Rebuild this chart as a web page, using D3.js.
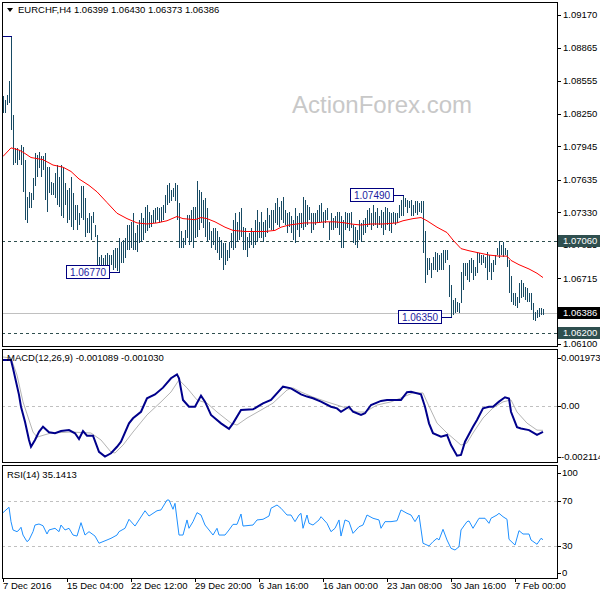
<!DOCTYPE html>
<html><head><meta charset="utf-8">
<script src="https://cdn.jsdelivr.net/npm/d3@7"></script>
<style>
html,body{margin:0;padding:0;background:#fff;}
svg{display:block;}
text{font-family:"Liberation Sans",Arial,sans-serif;font-size:9.5px;fill:#000;}
</style></head><body>
<svg id="c" width="600" height="600"></svg>
<script>
// ---------------- DATA ----------------
const symbol = "EURCHF,H4";
const lastOHLC = ["1.06399","1.06430","1.06373","1.06386"];
const macdHeader = ["MACD(12,26,9)","-0.001089","-0.001030"];
const rsiHeader = ["RSI(14)","35.1413"];

const highs = [
1.0841,1.0838,1.0842,1.0855,1.0897,1.0824,1.0793,1.0793,1.0791,1.0796,
1.0794,1.0782,1.0747,1.0752,1.0751,1.0765,1.0788,1.0786,1.0789,1.0785,
1.0785,1.0788,1.0775,1.0775,1.0761,1.0760,1.0770,1.0777,1.0766,1.0777,
1.0775,1.0760,1.0754,1.0756,1.0766,1.0751,1.0740,1.0740,1.0732,1.0757,
1.0757,1.0746,1.0728,1.0732,1.0729,1.0733,1.0721,1.0712,1.0691,1.0693,
1.0690,1.0693,1.0695,1.0693,1.0693,1.0698,1.0700,1.0700,1.0709,1.0705,
1.0707,1.0709,1.0721,1.0721,1.0724,1.0732,1.0714,1.0721,1.0726,1.0732,
1.0728,1.0738,1.0740,1.0733,1.0730,1.0735,1.0737,1.0738,1.0737,1.0738,
1.0740,1.0749,1.0758,1.0760,1.0754,1.0756,1.0760,1.0758,1.0742,1.0715,
1.0709,1.0716,1.0730,1.0730,1.0735,1.0738,1.0738,1.0762,1.0754,1.0752,
1.0744,1.0746,1.0737,1.0724,1.0715,1.0718,1.0718,1.0715,1.0710,1.0707,
1.0704,1.0704,1.0698,1.0705,1.0714,1.0726,1.0732,1.0724,1.0733,1.0737,
1.0719,1.0718,1.0710,1.0714,1.0718,1.0715,1.0726,1.0735,1.0724,1.0733,
1.0724,1.0726,1.0737,1.0730,1.0735,1.0735,1.0742,1.0746,1.0738,1.0743,
1.0747,1.0735,1.0732,1.0733,1.0729,1.0726,1.0737,1.0729,1.0732,1.0732,
1.0747,1.0744,1.0740,1.0738,1.0732,1.0732,1.0732,1.0735,1.0740,1.0742,
1.0733,1.0735,1.0737,1.0724,1.0732,1.0728,1.0729,1.0733,1.0733,1.0729,
1.0726,1.0733,1.0732,1.0732,1.0733,1.0721,1.0719,1.0716,1.0726,1.0723,
1.0726,1.0728,1.0735,1.0737,1.0732,1.0740,1.0733,1.0737,1.0729,1.0735,
1.0733,1.0738,1.0737,1.0733,1.0732,1.0733,1.0732,1.0732,1.0740,1.0744,
1.0749,1.0746,1.0744,1.0743,1.0744,1.0740,1.0743,1.0743,1.0742,1.0743,
1.0743,1.0715,1.0690,1.0690,1.0686,1.0691,1.0696,1.0695,1.0693,1.0695,
1.0698,1.0698,1.0698,1.0684,1.0665,1.0651,1.0653,1.0649,1.0648,1.0677,
1.0686,1.0686,1.0686,1.0688,1.0690,1.0688,1.0682,1.0696,1.0695,1.0693,
1.0693,1.0691,1.0696,1.0693,1.0686,1.0688,1.0693,1.0700,1.0706,1.0702,
1.0705,1.0700,1.0698,1.0688,1.0673,1.0658,1.0658,1.0654,1.0667,1.0670,
1.0667,1.0663,1.0662,1.0658,1.0658,1.0648,1.0640,1.0642,1.0644,1.0644,1.0643
];
const lows = [
1.0826,1.0826,1.0833,1.0835,1.0810,1.0777,1.0779,1.0777,1.0782,1.0777,
1.0752,1.0726,1.0723,1.0737,1.0737,1.0744,1.0757,1.0766,1.0774,1.0766,
1.0772,1.0744,1.0733,1.0751,1.0749,1.0749,1.0746,1.0740,1.0738,1.0729,
1.0728,1.0740,1.0723,1.0726,1.0719,1.0716,1.0726,1.0716,1.0721,1.0728,
1.0726,1.0710,1.0714,1.0714,1.0707,1.0723,1.0710,1.0679,1.0678,1.0678,
1.0681,1.0678,1.0681,1.0681,1.0684,1.0679,1.0681,1.0678,1.0677,1.0686,
1.0686,1.0690,1.0698,1.0698,1.0700,1.0698,1.0698,1.0696,1.0704,1.0705,
1.0707,1.0714,1.0715,1.0718,1.0719,1.0723,1.0723,1.0726,1.0723,1.0724,
1.0726,1.0732,1.0740,1.0742,1.0743,1.0747,1.0743,1.0726,1.0700,1.0700,
1.0700,1.0702,1.0709,1.0702,1.0705,1.0700,1.0709,1.0710,1.0716,1.0723,
1.0718,1.0710,1.0705,1.0707,1.0700,1.0702,1.0698,1.0695,1.0688,1.0690,
1.0679,1.0684,1.0687,1.0690,1.0700,1.0698,1.0700,1.0705,1.0707,1.0710,
1.0698,1.0698,1.0691,1.0700,1.0702,1.0700,1.0702,1.0705,1.0709,1.0709,
1.0705,1.0710,1.0714,1.0718,1.0716,1.0715,1.0723,1.0721,1.0719,1.0726,
1.0723,1.0721,1.0714,1.0719,1.0714,1.0707,1.0704,1.0716,1.0710,1.0718,
1.0716,1.0719,1.0721,1.0726,1.0714,1.0716,1.0721,1.0723,1.0723,1.0724,
1.0718,1.0723,1.0726,1.0707,1.0716,1.0716,1.0718,1.0718,1.0712,1.0700,
1.0700,1.0716,1.0718,1.0715,1.0718,1.0704,1.0702,1.0700,1.0707,1.0705,
1.0712,1.0714,1.0719,1.0721,1.0716,1.0720,1.0721,1.0718,1.0721,1.0718,
1.0712,1.0716,1.0721,1.0715,1.0714,1.0723,1.0721,1.0723,1.0728,1.0729,
1.0729,1.0738,1.0732,1.0737,1.0729,1.0729,1.0732,1.0730,1.0733,1.0732,
1.0695,1.0667,1.0674,1.0679,1.0672,1.0679,1.0679,1.0677,1.0679,1.0679,
1.0679,1.0686,1.0688,1.0654,1.0635,1.0637,1.0639,1.0640,1.0639,1.0648,
1.0660,1.0673,1.0670,1.0668,1.0676,1.0670,1.0673,1.0676,1.0686,1.0684,
1.0686,1.0681,1.0670,1.0677,1.0670,1.0677,1.0684,1.0693,1.0690,1.0693,
1.0691,1.0693,1.0682,1.0658,1.0649,1.0646,1.0645,1.0644,1.0648,1.0653,
1.0654,1.0651,1.0649,1.0649,1.0642,1.0632,1.0631,1.0634,1.0635,1.0637,1.06373
];

// moving average (red), sampled at bar indices
const maIdx = [0,4,8,10,14,20,25,30,34,38,43,47,52,57,62,67,72,77,82,87,90,96,99,102,106,111,115,121,124,131,136,139,143,147,151,156,161,166,171,174,179,184,190,197,200,205,209,212,217,222,225,229,233,238,243,248,252,254,258,263,267,270];
const maVal = [1.0785,1.0793,1.0791,1.0789,1.0784,1.0782,1.0777,1.0775,1.0771,1.0764,1.0758,1.0752,1.0742,1.0732,1.0727,1.0723,1.0722,1.0723,1.0725,1.0729,1.0727,1.0726,1.0728,1.0727,1.0724,1.0719,1.0716,1.0715,1.0715,1.0715,1.0716,1.0719,1.0721,1.0722,1.0723,1.0723,1.0724,1.0724,1.0723,1.0722,1.0721,1.0722,1.0722,1.0723,1.0725,1.0727,1.0728,1.0725,1.0719,1.0714,1.0707,1.0699,1.0697,1.0695,1.0693,1.0692,1.0692,1.0688,1.0684,1.0680,1.0676,1.0672];

// MACD(12,26,9)
const macdIdx = [0,4,5,8,9,11,13,14,16,18,20,23,26,29,33,36,38,40,42,45,48,51,54,57,59,63,65,69,72,76,80,84,87,88,90,93,96,99,101,104,109,113,115,119,125,130,134,140,144,148,149,152,155,159,164,167,169,173,175,179,181,184,189,192,199,202,204,209,211,213,215,219,222,224,227,229,231,235,237,240,243,245,248,251,253,254,257,259,263,267,270];
const macdMain = [0.00189,0.00189,0.00154,0.00044,-0.00005,-0.00067,-0.00143,-0.00171,-0.00143,-0.00109,-0.00088,-0.00111,-0.00115,-0.00106,-0.00102,-0.00115,-0.00139,-0.00106,-0.00125,-0.00125,-0.00192,-0.00212,-0.00198,-0.00171,-0.0015,-0.00074,-0.00053,-0.00026,0.0003,0.00046,0.00074,0.00113,0.00129,0.00113,0.00023,-0.00005,-0.00005,0.00041,0.00016,-0.00039,-0.00074,-0.00097,-0.00074,-0.00019,-0.00016,0.00009,0.00023,0.00078,0.00071,0.00051,0.00046,0.00037,0.0003,0.00016,-0.00005,-0.00012,-0.00026,-0.00005,-0.00026,-0.00039,-0.00032,0.00002,0.00019,0.00023,0.00023,0.00055,0.00057,0.00046,-0.00005,-0.00074,-0.00115,-0.00129,-0.00122,-0.00164,-0.00208,-0.00205,-0.0015,-0.00088,-0.0006,-0.00012,-0.00005,-0.00005,0.00016,0.00034,0.00029,-0.00026,-0.0009,-0.00095,-0.00102,-0.00122,-0.00109];
const sigIdx = [0,4,7,10,15,17,24,34,44,49,54,56,60,65,72,79,84,88,92,97,102,107,114,117,122,129,135,142,145,149,155,162,170,177,181,187,194,200,205,210,212,217,222,229,232,235,240,245,250,254,257,262,267,270];
const sigVal = [0.00201,0.00197,0.00126,0.00015,-0.0011,-0.00131,-0.00114,-0.0011,-0.00114,-0.00143,-0.00193,-0.00197,-0.00164,-0.0011,-0.00039,0.00015,0.00056,0.00106,0.00073,0.00023,0.0001,-0.00027,-0.00073,-0.00081,-0.00052,-0.00019,0.0001,0.00064,0.00073,0.00056,0.00035,0.00015,-0.00006,-0.00027,-0.00027,0.00002,0.00015,0.00035,0.00052,0.00052,0.00015,-0.00073,-0.00114,-0.00164,-0.00155,-0.00114,-0.00052,-0.0001,0.00015,0.00023,-0.00027,-0.00073,-0.00102,-0.00103];

// RSI(14)
const rsiIdx = [0,3,4,5,7,8,9,10,12,13,15,16,18,20,22,23,26,28,29,31,33,35,37,39,41,43,46,48,52,54,57,58,61,63,66,68,71,73,77,79,82,83,85,86,88,90,92,93,95,97,99,101,103,105,107,108,111,113,115,117,119,120,125,127,130,133,134,137,139,142,144,146,148,149,150,152,153,155,158,159,162,164,166,168,169,171,173,175,178,180,182,185,188,189,191,194,197,199,202,204,206,208,210,213,215,217,218,220,222,224,226,228,229,232,233,235,238,241,243,244,247,248,250,252,253,256,258,260,263,264,267,269,270];
const rsiVal = [59.2,64.0,51.2,43.8,42.3,43.8,46.2,39.3,33.4,34.9,42.3,48.2,49.1,47.6,40.2,43.8,45.3,42.3,48.2,43.8,45.3,39.3,38.4,50.3,39.3,42.3,38.4,32.0,34.9,36.4,39.3,42.3,45.3,53.3,47.3,52.7,60.9,56.2,60.9,61.6,70.4,70.4,62.2,67.5,39.3,39.3,52.7,45.3,51.2,59.2,57.1,48.2,43.8,39.3,45.3,39.3,39.3,43.8,48.8,48.8,58.0,47.3,48.2,52.7,53.3,56.2,63.1,66.0,63.1,57.1,57.1,51.2,57.1,58.6,45.3,57.1,49.7,48.2,52.7,55.6,49.7,42.3,45.3,52.7,38.4,52.7,51.2,40.8,46.7,48.2,57.1,54.2,52.7,45.3,51.2,51.2,52.0,61.6,58.6,57.1,51.2,57.1,32.0,29.6,33.4,36.4,34.9,44.4,34.9,27.5,26.0,28.9,43.8,51.2,51.8,45.3,54.2,54.2,49.7,54.2,57.1,58.6,55.6,53.3,35.5,30.4,43.2,40.2,40.2,34.9,31.1,36.4,35.14];

// axis labels
const timeLabels = ["7 Dec 2016","15 Dec 04:00","22 Dec 12:00","29 Dec 20:00","6 Jan 16:00","16 Jan 00:00","23 Jan 08:00","30 Jan 16:00","7 Feb 00:00"];
const timeLabelBars = [0,32,64,96,128,160,192,224,256];
const priceTicks = ["1.09170","1.08865","1.08555","1.08250","1.07945","1.07635","1.07330","1.07025","1.06715","1.06410","1.06100"];
const macdTicks = [0.001973, 0, -0.002114];
const macdTickLabels = ["0.001973","0.00","-0.002114"];
const rsiTicks = [100, 70, 30, 0];

// horizontal levels and annotations
const levelPrices = [1.0706, 1.0620];
const levelLabels = ["1.07060","1.06200"];
const bidPrice = 1.06386, bidLabel = "1.06386";
const noteBars = [58, 200, 224];
const notePrices = [1.0677, 1.0749, 1.0635];
const noteLabels = ["1.06770","1.07490","1.06350"];
const edgeNoteBars = [4];
const edgeNotePrices = [1.0897];

// ---------------- DRAW ----------------
const svg = d3.select("#c");
const PL = 2, PR = 557;
const P1 = {t:2, b:346}, P2 = {t:349, b:462}, P3 = {t:465, b:578};
const barColor = "#174a63";

const x = d3.scaleLinear().domain([0, 270]).range([3, 543]);
const y = d3.scaleLinear().domain([1.0917, 1.0610]).range([15, 344]);
const yM = d3.scaleLinear().domain([0, -0.002114]).range([405.5, 456.5]);
const yR = d3.scaleLinear().domain([70, 30]).range([500.5, 545.5]);
const px = i => Math.round(x(i)) + 0.5;

svg.append("rect").attr("width",600).attr("height",600).attr("fill","#fff");

const defs = svg.append("defs");
[P1,P2,P3].forEach((p,k)=>{
  defs.append("clipPath").attr("id","clip"+k).append("rect")
    .attr("x",PL+1).attr("y",p.t+1).attr("width",PR-PL-1).attr("height",p.b-p.t-1);
});

// watermark
svg.append("text").attr("x",382).attr("y",113).attr("text-anchor","middle")
  .style("font-size","24px").style("fill","#c8c8c8").text("ActionForex.com");

// ---- main panel ----
const g1 = svg.append("g").attr("clip-path","url(#clip0)");
g1.selectAll("line.lvl").data(levelPrices).join("line").attr("class","lvl")
  .attr("x1",PL).attr("x2",PR).attr("y1",d=>Math.round(y(d))+0.5).attr("y2",d=>Math.round(y(d))+0.5)
  .attr("stroke","#2f4f4f").attr("stroke-dasharray","3,3").attr("shape-rendering","crispEdges");
g1.append("line").attr("x1",PL).attr("x2",PR)
  .attr("y1",Math.round(y(bidPrice))+0.5).attr("y2",Math.round(y(bidPrice))+0.5)
  .attr("stroke","#c0c0c0").attr("shape-rendering","crispEdges");
g1.selectAll("line.bar").data(highs).join("line").attr("class","bar")
  .attr("x1",(d,i)=>px(i)).attr("x2",(d,i)=>px(i))
  .attr("y1",d=>y(d)).attr("y2",(d,i)=>y(lows[i]))
  .attr("stroke",barColor).attr("stroke-width",1).attr("shape-rendering","crispEdges");
g1.append("path").datum(maIdx.map((d,i)=>[d,maVal[i]]))
  .attr("d",d3.line().x(d=>x(d[0])).y(d=>y(d[1])))
  .attr("fill","none").attr("stroke","#ff0000").attr("stroke-width",1);
g1.selectAll("line.edge").data(edgeNoteBars).join("line").attr("class","edge")
  .attr("x1",PL).attr("x2",d=>px(d))
  .attr("y1",(d,i)=>Math.round(y(edgeNotePrices[i]))+0.5).attr("y2",(d,i)=>Math.round(y(edgeNotePrices[i]))+0.5)
  .attr("stroke","#000080").attr("shape-rendering","crispEdges");
const notes = g1.selectAll("g.note").data(noteBars).join("g").attr("class","note");
notes.append("line")
  .attr("x1",d=>px(d)-10).attr("x2",d=>px(d))
  .attr("y1",(d,i)=>Math.round(y(notePrices[i]))+0.5).attr("y2",(d,i)=>Math.round(y(notePrices[i]))+0.5)
  .attr("stroke","#000080").attr("shape-rendering","crispEdges");
notes.append("rect")
  .attr("x",d=>px(d)-10-43).attr("y",(d,i)=>Math.round(y(notePrices[i]))-6.5)
  .attr("width",43).attr("height",13)
  .attr("fill","#fff").attr("stroke","#000080").attr("shape-rendering","crispEdges");
notes.append("text")
  .attr("x",d=>px(d)-10-21.5).attr("y",(d,i)=>y(notePrices[i])).attr("dy","0.36em")
  .attr("text-anchor","middle").style("font-size","10px").style("fill","#1a1aa0")
  .text((d,i)=>noteLabels[i]);

// ---- MACD panel ----
const g2 = svg.append("g").attr("clip-path","url(#clip1)");
g2.append("line").attr("x1",PL).attr("x2",PR).attr("y1",Math.round(yM(0))+0.5).attr("y2",Math.round(yM(0))+0.5)
  .attr("stroke","#c0c0c0").attr("stroke-dasharray","3,3").attr("shape-rendering","crispEdges");
g2.append("path").datum(sigIdx.map((d,i)=>[d,sigVal[i]]))
  .attr("d",d3.line().x(d=>x(d[0])).y(d=>yM(d[1])))
  .attr("fill","none").attr("stroke","#b4b4b4").attr("stroke-width",1);
g2.append("path").datum(macdIdx.map((d,i)=>[d,macdMain[i]]))
  .attr("d",d3.line().x(d=>x(d[0])).y(d=>yM(d[1])))
  .attr("fill","none").attr("stroke","#00008b").attr("stroke-width",2);

// ---- RSI panel ----
const g3 = svg.append("g").attr("clip-path","url(#clip2)");
g3.selectAll("line.rl").data([70,30]).join("line").attr("class","rl")
  .attr("x1",PL).attr("x2",PR).attr("y1",d=>Math.round(yR(d))+0.5).attr("y2",d=>Math.round(yR(d))+0.5)
  .attr("stroke","#c0c0c0").attr("stroke-dasharray","3,3").attr("shape-rendering","crispEdges");
g3.append("path").datum(rsiIdx.map((d,i)=>[d,rsiVal[i]]))
  .attr("d",d3.line().x(d=>x(d[0])).y(d=>yR(d[1])))
  .attr("fill","none").attr("stroke","#1e90ff").attr("stroke-width",1);

// ---- frames ----
[P1,P2,P3].forEach(p=>{
  svg.append("rect").attr("x",PL+0.5).attr("y",p.t+0.5).attr("width",PR-PL).attr("height",p.b-p.t)
    .attr("fill","none").attr("stroke","#000").attr("shape-rendering","crispEdges");
});

// ---- headers ----
svg.append("path").attr("d","M7,8 L13,8 L10,12 Z").attr("fill","#000");
svg.append("text").attr("x",18).attr("y",10).attr("dy","0.36em")
  .text(symbol + "  " + lastOHLC.join(" "));
svg.append("text").attr("x",7).attr("y",358).attr("dy","0.36em").text(macdHeader.join(" "));
svg.append("text").attr("x",7).attr("y",475).attr("dy","0.36em").text(rsiHeader.join(" "));

// ---- right axis: price ----
const ax = svg.append("g");
priceTicks.forEach(t=>{
  const yy = Math.round(y(+t))+0.5;
  ax.append("line").attr("x1",PR).attr("x2",PR+4).attr("y1",yy).attr("y2",yy).attr("stroke","#000").attr("shape-rendering","crispEdges");
  ax.append("text").attr("x",563).attr("y",y(+t)).attr("dy","0.36em").text(t);
});
function boxLabel(v, txt, fill){
  const yy = Math.round(y(v));
  ax.append("rect").attr("x",558).attr("y",yy-6).attr("width",42).attr("height",12).attr("fill",fill).attr("shape-rendering","crispEdges");
  ax.append("text").attr("x",563).attr("y",yy).attr("dy","0.36em").style("fill","#fff").text(txt);
}
levelPrices.forEach((v,i)=>boxLabel(v, levelLabels[i], "#2f4f4f"));
boxLabel(bidPrice, bidLabel, "#000");

// ---- right axis: MACD ----
macdTicks.forEach((v,i)=>{
  const yy = Math.round(yM(v))+0.5;
  ax.append("line").attr("x1",PR).attr("x2",PR+4).attr("y1",yy).attr("y2",yy).attr("stroke","#000").attr("shape-rendering","crispEdges");
  ax.append("text").attr("x",561).attr("y",yM(v)).attr("dy","0.36em").text(macdTickLabels[i]);
});
// ---- right axis: RSI ----
rsiTicks.forEach(v=>{
  const yy = Math.max(P3.t+8, Math.min(P3.b-5, yR(v)));
  ax.append("line").attr("x1",PR).attr("x2",PR+4).attr("y1",Math.round(yy)+0.5).attr("y2",Math.round(yy)+0.5).attr("stroke","#000").attr("shape-rendering","crispEdges");
  ax.append("text").attr("x",562).attr("y",yy).attr("dy","0.36em").text(v);
});

// ---- time axis ----
timeLabelBars.forEach((b,i)=>{
  const xx = px(b);
  ax.append("line").attr("x1",xx).attr("x2",xx).attr("y1",P3.b).attr("y2",P3.b+4).attr("stroke","#000").attr("shape-rendering","crispEdges");
  ax.append("text").attr("x",xx-0.5).attr("y",586).attr("dy","0.36em").text(timeLabels[i]);
});
</script>
</body></html>
